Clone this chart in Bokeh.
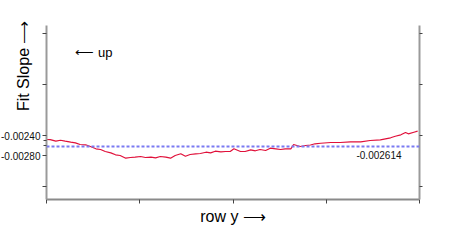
from bokeh.plotting import figure
from bokeh.models import Range1d, LinearAxis, FixedTicker, Label, Span
from bokeh.embed import file_html
from bokeh.resources import INLINE

rows = [0, 4, 10, 15, 20, 26, 31, 36, 42, 47, 53, 58, 63, 69, 74, 79, 85, 90, 95,
        101, 106, 112, 117, 122, 128, 133, 138, 144, 149, 154, 160, 165, 171, 176,
        181, 187, 192, 197, 201, 208, 213, 219, 224, 229, 235, 240, 246, 251, 256,
        262, 265, 272, 278, 283, 288, 294, 305, 315, 326, 337, 347, 358, 369, 374,
        380, 385, 388, 394, 398]
slopes = [-0.002479, -0.002480, -0.002512, -0.002493, -0.002512, -0.002532, -0.002544,
          -0.002577, -0.002583, -0.002617, -0.002662, -0.002676, -0.002715, -0.002741,
          -0.002780, -0.002794, -0.002847, -0.002833, -0.002827, -0.002813, -0.002833,
          -0.002827, -0.002839, -0.002813, -0.002827, -0.002847, -0.002794, -0.002760,
          -0.002808, -0.002774, -0.002760, -0.002754, -0.002729, -0.002741, -0.002709,
          -0.002721, -0.002715, -0.002715, -0.002662, -0.002715, -0.002715, -0.002682,
          -0.002701, -0.002676, -0.002695, -0.002650, -0.002662, -0.002676, -0.002662,
          -0.002662, -0.002577, -0.002617, -0.002597, -0.002587, -0.002563, -0.002552,
          -0.002538, -0.002538, -0.002524, -0.002524, -0.002498, -0.002485, -0.002445,
          -0.002414, -0.002386, -0.002341, -0.002367, -0.002335, -0.002315]
mean_slope = -0.002614
mean_label = "-0.002614"

y_major = [-0.0034, -0.0028, -0.0024, -0.0014, -0.0004]
y_minor = [-0.0025, -0.0026]
y_labels = {-0.0034: "", -0.0028: "-0.00280", -0.0024: "-0.00240", -0.0014: "", -0.0004: ""}
y_right_ticks = [-0.0034, -0.0024, -0.0014, -0.0004]
x_ticks = [0, 100, 200, 300, 400]
x_title = "row y \u27f6"
y_title = "Fit Slope \u27f6"
note = "\u27f5 up"

FONT = "Liberation Sans"

p = figure(width=450, height=240, output_backend="svg", toolbar_location=None,
           x_range=Range1d(0, 400), y_range=Range1d(-0.00366, -0.000234),
           x_axis_location=None, y_axis_location=None,
           min_border_left=46, min_border_right=31, min_border_top=25, min_border_bottom=41)
p.outline_line_color = None
p.grid.visible = False
p.background_fill_color = "white"
p.border_fill_color = "white"

# left axis
ly = LinearAxis(ticker=FixedTicker(ticks=y_major, minor_ticks=y_minor))
ly.major_label_overrides = y_labels
ly.major_label_text_font = FONT
ly.major_label_text_font_size = "10px"
ly.major_label_text_color = "#111111"
ly.major_label_standoff = 2
ly.axis_line_color = "#9a9a9a"
ly.axis_line_width = 2
ly.major_tick_line_color = "#444444"
ly.minor_tick_line_color = "#444444"
ly.major_tick_out = 4
ly.major_tick_in = 0
ly.minor_tick_out = 3
ly.minor_tick_in = 0
# leading no-break spaces lift the centred title into the upper half, as in the original
ly.axis_label = "\u00a0" * 21 + y_title
ly.axis_label_text_font = FONT
ly.axis_label_text_font_size = "16px"
ly.axis_label_text_font_style = "normal"
ly.axis_label_text_color = "#000000"
ly.axis_label_standoff = -34
ly.axis_label_align = "center"
p.add_layout(ly, "left")

# right axis
ry = LinearAxis(ticker=FixedTicker(ticks=y_right_ticks, minor_ticks=[]))
ry.major_label_text_font_size = "0px"
ry.major_label_standoff = 0
ry.axis_line_color = "#9a9a9a"
ry.axis_line_width = 2
ry.major_tick_line_color = "#444444"
ry.major_tick_out = 3
ry.major_tick_in = 0
p.add_layout(ry, "right")

# bottom axis
bx = LinearAxis(ticker=FixedTicker(ticks=x_ticks, minor_ticks=[]))
bx.major_label_text_font_size = "0px"
bx.major_label_standoff = 0
bx.axis_line_color = "#8a8a8a"
bx.axis_line_width = 2
bx.major_tick_line_color = "#444444"
bx.major_tick_out = 4
bx.major_tick_in = 0
bx.axis_label = x_title
bx.axis_label_text_font = FONT
bx.axis_label_text_font_size = "16px"
bx.axis_label_text_font_style = "normal"
bx.axis_label_text_color = "#000000"
bx.axis_label_standoff = 4
p.add_layout(bx, "below")

p.add_layout(Span(location=mean_slope, dimension="width", line_color="#7a7af2",
                  line_dash="3 2", line_width=2))
p.line(rows, slopes, line_color="#e0103a", line_width=1.2)

p.add_layout(Label(x=31, y=-0.000766, text=note, text_align="left",
                   text_baseline="alphabetic", text_font=FONT,
                   text_font_size="13px", text_color="#000000"))
p.add_layout(Label(x=380.7, y=-0.002784, text=mean_label, text_align="right",
                   text_baseline="alphabetic", text_font=FONT,
                   text_font_size="10px", text_color="#111111"))

open("out.html", "w").write(file_html(p, INLINE))
